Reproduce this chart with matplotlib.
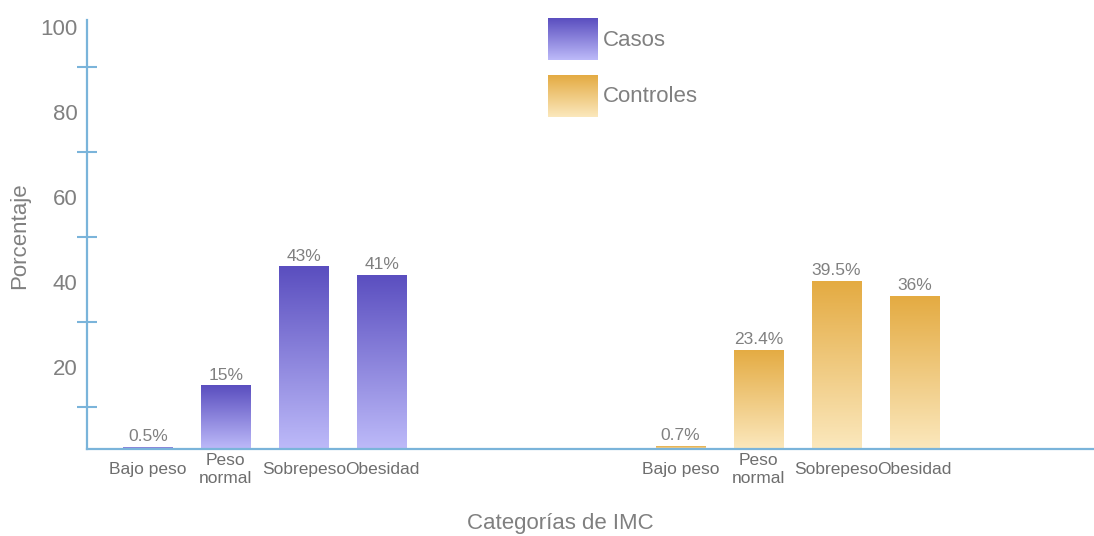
import numpy as np
import matplotlib.pyplot as plt
import matplotlib.transforms as mtransforms
from matplotlib.colors import LinearSegmentedColormap

categorias = ["Bajo peso", "Peso\nnormal", "Sobrepeso", "Obesidad"]
casos = [0.5, 15, 43, 41]
controles = [0.7, 23.4, 39.5, 36]
casos_labels = ["0.5%", "15%", "43%", "41%"]
controles_labels = ["0.7%", "23.4%", "39.5%", "36%"]
y_labels = [20, 40, 60, 80, 100]
y_marks = [10, 30, 50, 70, 90]

plt.rcParams['font.family'] = ['Liberation Sans', 'DejaVu Sans']
GRIS = '#808080'
AZUL = '#7ab4da'

cmap_casos = LinearSegmentedColormap.from_list('casos', ['#bdbaf9', '#5a4ebf'])
cmap_controles = LinearSegmentedColormap.from_list('controles', ['#fbe8bd', '#e4ab42'])
grad = np.linspace(0, 1, 256).reshape(-1, 1)


def gradient_bars(ax, xs, values, cmap, width=0.64):
    bars = ax.bar(xs, values, width=width, color='none', edgecolor='none')
    for bar in bars:
        x0 = bar.get_x()
        im = ax.imshow(grad, extent=[x0, x0 + bar.get_width(), 0, bar.get_height()],
                       origin='lower', cmap=cmap, aspect='auto', zorder=2)
        im.set_clip_path(bar)
    return bars


W, H = 1094, 536
fig = plt.figure(figsize=(W / 100, H / 100), dpi=100)
ax = fig.add_axes([87 / W, 87 / H, 1 - 87 / W, 429 / H])

casos_x = np.arange(len(categorias))
controles_x = casos_x + 6.83

for xs, vals, labels, cmap in [(casos_x, casos, casos_labels, cmap_casos),
                               (controles_x, controles, controles_labels, cmap_controles)]:
    gradient_bars(ax, xs, vals, cmap)
    for x, v, lab in zip(xs, vals, labels):
        ax.annotate(lab, (x, v), xytext=(0, 2), textcoords='offset points',
                    ha='center', va='bottom', fontsize=12.5, color=GRIS)

ax.set_xlim(-0.78, 12.13)
ax.set_ylim(0, 101)

ax.set_xticks(list(casos_x) + list(controles_x), categorias * 2)
ax.tick_params(axis='x', length=0, pad=15, labelsize=12.5, labelcolor='#6e6e6e')
for lbl in ax.get_xticklabels():
    lbl.set_verticalalignment('center')
    lbl.set_linespacing(1.25)

ax.set_yticks(y_labels)
ax.set_yticks(y_marks, minor=True)
ax.tick_params(axis='y', which='major', length=0, pad=7, labelsize=16, labelcolor=GRIS)
ax.tick_params(axis='y', which='minor', length=14, width=1.5, direction='inout', color=AZUL)
shift = mtransforms.ScaledTranslation(0, -3 / 100, fig.dpi_scale_trans)
for lbl in ax.get_yticklabels():
    lbl.set_transform(lbl.get_transform() + shift)

for s in ['top', 'right']:
    ax.spines[s].set_visible(False)
for s in ['left', 'bottom']:
    ax.spines[s].set_color(AZUL)
    ax.spines[s].set_linewidth(1.6)

fig.text(20 / W, 1 - 236 / H, 'Porcentaje', rotation=90, ha='center', va='center',
         fontsize=16, color=GRIS)
fig.text(560 / W, 1 - 524 / H, 'Categorías de IMC', ha='center', va='center',
         fontsize=16, color=GRIS)

# legend
for (name, cmap, top) in [('Casos', cmap_casos, 18), ('Controles', cmap_controles, 75)]:
    lax = fig.add_axes([548 / W, 1 - (top + 42) / H, 50 / W, 42 / H])
    lax.imshow(grad, cmap=cmap, origin='lower', aspect='auto')
    lax.axis('off')
    fig.text(603 / W, 1 - (top + 22) / H, name, ha='left', va='center', fontsize=16, color=GRIS)

fig.savefig('out.png', dpi=100)
